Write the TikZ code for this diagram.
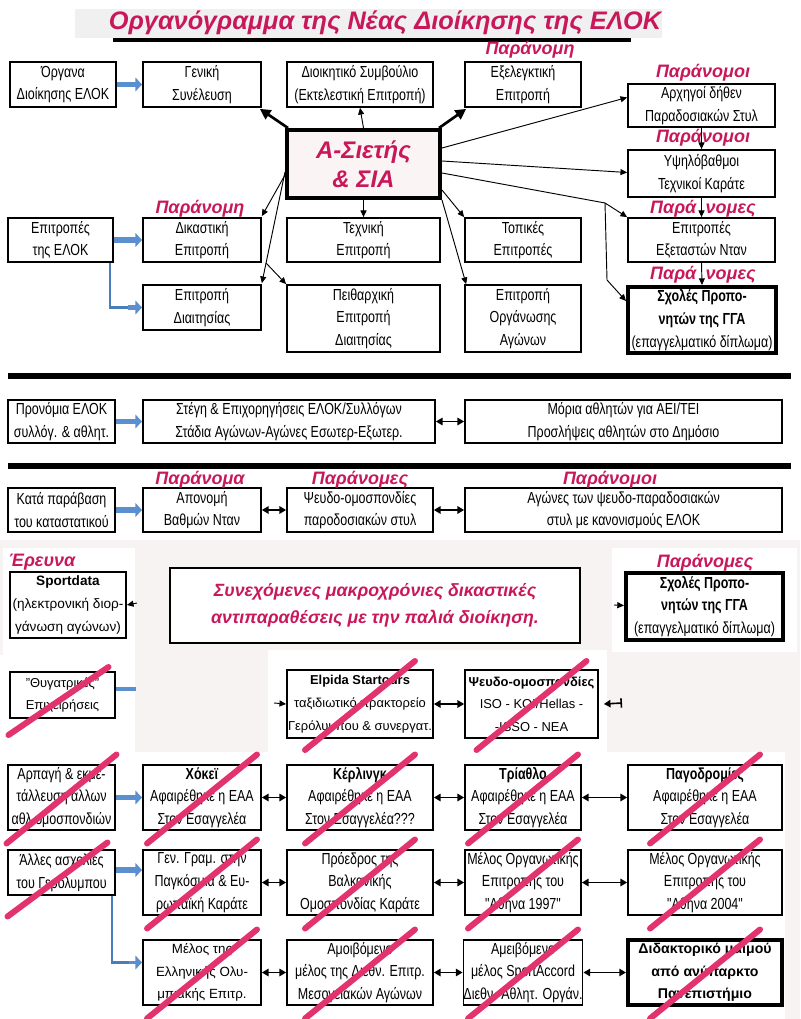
\documentclass[tikz,border=0pt]{standalone}
\usepackage{fontspec}
\setmainfont{Liberation Sans}
\newfontfamily\nar[FakeStretch=0.78]{Liberation Sans}
\usetikzlibrary{arrows.meta,calc}
\definecolor{crim}{HTML}{C8185A}
\definecolor{slashc}{HTML}{E2336E}
\definecolor{bluea}{HTML}{5B8FD0}
\definecolor{bluel}{HTML}{4A7EBB}
\definecolor{lowbg}{HTML}{F7F3F3}
\definecolor{cfill}{HTML}{FBF4F4}
\newcommand\bx[7][]{\node[box,#1,minimum width={(#5-#3)*0.75pt},minimum height={(#6-#4)*0.75pt}] (#2) at ({(#3+#5)/2},{(#4+#6)/2}) {#7};}
\newcommand\slashit[1]{\draw[slashln] ($(#1.center)+(-55,46)$) -- ($(#1.center)+(55,-43)$);}
\begin{document}
\begin{tikzpicture}[x=0.75pt,y=-0.75pt,
  box/.style={draw=black, line width=1.3pt, fill=white, align=center, inner sep=0pt, font=\nar\fontsize{12}{17}\selectfont},
  nbox/.style={box, font=\fontsize{9.7}{17}\selectfont},
  lab/.style={font=\bfseries\itshape\fontsize{13.5}{15}\selectfont, text=crim, inner sep=0pt},
  thk/.style={line width=2pt, -{Triangle[length=8pt,width=8pt]}},
  thn/.style={line width=0.7pt, -{Triangle[length=5pt,width=4.5pt]}},
  dbl/.style={line width=1.3pt, {Triangle[length=5pt,width=5.5pt]}-{Triangle[length=5pt,width=5.5pt]}},
  blu/.style={line width=4pt, draw=bluea, -{Triangle[length=5pt,width=10pt]}},
  bline/.style={line width=2pt, draw=bluel},
  slashln/.style={line width=4.5pt, draw=slashc, line cap=round},
  sepline/.style={line width=5pt}]
\useasboundingbox (0,0) rectangle (800,1019);
\fill[white] (0,0) rectangle (800,1019);
\fill[lowbg] (0,540) rectangle (800,1019);
\fill[white] (3,548) rectangle (135,655);
\fill[white] (612,548) rectangle (797,652);
\fill[white] (0,655) rectangle (135,752);
\fill[white] (268,650) rectangle (607,752);
\fill[white] (0,752) rectangle (785,1019);

% title
\fill[black!6] (75,9) rectangle (662,38);
\node[font=\bfseries\itshape\fontsize{19}{21}\selectfont, text=crim, inner sep=0pt] (title) at (385,23) {Οργανόγραμμα της Νέας Διοίκησης της ΕΛΟΚ};
\draw[line width=3pt] (113,40) -- (631,40);

% row 1
\bx{A1}{10}{62}{116}{107}{Όργανα\\Διοίκησης ΕΛΟΚ}
\bx{A2}{143}{62}{261}{107}{Γενική\\Συνέλευση}
\bx{A3}{287}{62}{433}{107}{Διοικητικό Συμβούλιο\\(Εκτελεστική Επιτροπή)}
\bx{A4}{465}{62}{581}{107}{Εξελεγκτική\\Επιτροπή}
\node[lab] (L1) at (530,50) {Παράνομη};

% right column
\bx{R1}{628}{84}{775}{127}{Αρχηγοί δήθεν\\Παραδοσιακών Στυλ}
\node[lab] (L2) at (703,73) {Παράνομοι};
\bx{R2}{628}{150}{775}{197}{Υψηλόβαθμοι\\Τεχνικοί Καράτε}
\node[lab] (L3) at (703,138) {Παράνομοι};
\bx{R3}{628}{218}{775}{262}{Επιτροπές\\Εξεταστών Νταν}
\node[lab] (L4) at (703,209) {Παρά\hspace{7pt}νομες};
\bx[line width=3pt]{R4}{628}{287}{776}{353}{\textbf{Σχολές Προπο-}\\\textbf{νητών της ΓΓΑ}\\(επαγγελματικό δίπλωμα)}
\node[lab] (L5) at (703,275) {Παρά\hspace{7pt}νομες};
\draw[thn] (R1.south) -- (R2.north);
\draw[thn] (R2.south) -- (R3.north);
\draw[thn] (R3.south) -- (R4.north);

% central
\bx[line width=3pt, fill=cfill, font=\bfseries\itshape\fontsize{18}{21.5}\selectfont, text=crim]{C}{287}{130}{440}{198}{Α-Σιετής\\\& ΣΙΑ}

% row 2 / 3
\bx{B1}{8}{218}{113}{262}{Επιτροπές\\της ΕΛΟΚ}
\bx{B2}{143}{218}{261}{262}{Δικαστική\\Επιτροπή}
\node[lab] (L6) at (200,209) {Παράνομη};
\bx{B3}{287}{218}{440}{262}{Τεχνική\\Επιτροπή}
\bx{B4}{465}{218}{581}{262}{Τοπικές\\Επιτροπές}
\bx{B5}{143}{285}{261}{330}{Επιτροπή\\Διαιτησίας}
\bx{B6}{287}{285}{440}{352}{Πειθαρχική\\Επιτροπή\\Διαιτησίας}
\bx{B7}{465}{285}{581}{352}{Επιτροπή\\Οργάνωσης\\Αγώνων}

% blue arrows top
\draw[blu] (A1.east) -- (A2.west);
\draw[blu] (B1.east) -- (B2.west);
\draw[bline] ($(B1.south east)+(-4,0)$) |- ($(B5.west)+(-12,0)$);
\draw[blu] ($(B5.west)+(-14,0)$) -- (B5.west);

% arrows from C
\draw[thk] ($(C.north west)+(3,0)$) -- ($(A2.south east)+(-2,1)$);
\draw[thn] (C.north) -- (A3.south);
\draw[thk] ($(C.north east)+(-3,0)$) -- ($(A4.south west)+(2,1)$);
\draw[thn] ($(C.north east)+(0,20)$) -- ($(R1.west)+(0,-8)$);
\draw[thn] ($(C.north east)+(0,33)$) -- ($(R2.west)+(0,-1)$);
\coordinate (K) at (605,203);
\draw[thn] ($(C.north east)+(0,45)$) -- (K) -- (R3.north west);
\draw[thn] (K) -- (607,280) -- ($(R4.north west)+(0,16)$);
\draw[thn] ($(C.south west)+(0,-25)$) -- ($(B2.north east)+(0,-1)$);
\coordinate (Q) at (266,263);
\draw[thn] ($(C.south west)+(0,-28)$) -- ($(B5.north east)+(0,-1)$);
\draw[thn] (Q) -- (B6.north west);
\draw[thn] (C.south) -- (B3.north);
\draw[thn] ($(C.south east)+(0,-10)$) -- (B4.north west);
\draw[thn] (C.south east) -- ($(B7.north west)+(2,0)$);

% separators
\draw[sepline] (8,376) -- (791,376);
\draw[sepline] (8,466) -- (791,466);

% privileges row
\bx{P1}{8}{400}{115}{443}{Προνόμια ΕΛΟΚ\\συλλόγ. \& αθλητ.}
\bx{P2}{143}{400}{435}{443}{Στέγη \& Επιχορηγήσεις ΕΛΟΚ/Συλλόγων\\Στάδια Αγώνων-Αγώνες Εσωτερ-Εξωτερ.}
\bx{P3}{465}{400}{782}{443}{Μόρια αθλητών για ΑΕΙ/ΤΕΙ\\Προσλήψεις αθλητών στο Δημόσιο}
\draw[blu] (P1.east) -- (P2.west);
\draw[dbl] (P2.east) -- (P3.west);

% violation row
\bx{Q1}{8}{488}{115}{532}{Κατά παράβαση\\του καταστατικού}
\bx{Q2}{143}{488}{261}{532}{Απονομή\\Βαθμών Νταν}
\node[lab] (L7) at (200,480) {Παράνομα};
\bx{Q3}{287}{488}{433}{532}{Ψευδο-ομοσπονδίες\\παροδοσιακών στυλ}
\node[lab] (L8) at (360,480) {Παράνομες};
\bx{Q4}{465}{488}{782}{532}{Αγώνες των ψευδο-παραδοσιακών\\στυλ με κανονισμούς ΕΛΟΚ}
\node[lab] (L9) at (610,480) {Παράνομοι};
\draw[blu] (Q1.east) -- (Q2.west);
\draw[dbl] (Q2.east) -- (Q3.west);
\draw[dbl] (Q3.east) -- (Q4.west);

% lower part
\node[lab] (L10) at (42,562) {Έρευνα};
\bx[nbox, font=\fontsize{10.2}{17}\selectfont]{S1}{10}{572}{126}{638}{\textbf{Sportdata}\\(ηλεκτρονική διορ-\\γάνωση αγώνων)}
\coordinate (S1r) at (137,603);
\draw[thn] (S1r) -- (S1.east);
\bx[line width=1.5pt, font=\bfseries\itshape\fontsize{13.3}{20}\selectfont, text=crim]{D}{170}{568}{580}{643}{Συνεχόμενες μακροχρόνιες δικαστικές\\αντιπαραθέσεις με την παλιά διοίκηση.}
\node[lab] (L11) at (705,563) {Παράνομες};
\bx[line width=3pt]{S2}{626}{573}{783}{640}{\textbf{Σχολές Προπο-}\\\textbf{νητών της ΓΓΑ}\\(επαγγελματικό δίπλωμα)}
\coordinate (S2l) at (614,605);
\draw[thn] (S2l) -- ($(S2.west)+(0,-1)$);

\bx[nbox]{T1}{10}{672}{115}{718}{"Θυγατρικές"\\Επιχειρήσεις}
\coordinate (T1r) at (136,689);
\draw[line width=3pt, draw=bluea] ($(T1.east)+(0,-6)$) -- (T1r);
\bx[nbox]{E1}{287}{670}{433}{738}{\textbf{Elpida Startours}\\ταξιδιωτικό πρακτορείο\\Γερόλυμπου \& συνεργατ.}
\bx[nbox]{E2}{465}{670}{598}{738}{\textbf{Ψευδο-ομοσπονδίες}\\ISO - KOI/Hellas -\\-ISSO - NEA}
\coordinate (E1l) at (274,703);
\coordinate (E2r) at (622,703);
\draw[thn] (E1l) -- (E1.west);
\draw[dbl] (E1.east) -- (E2.west);
\draw[line width=1.2pt, {Bar[width=7pt]}-{Triangle[length=5pt,width=5.5pt]}] (E2r) -- ($(E2.east)+(5,0)$);

\bx{F1}{8}{765}{115}{830}{Αρπαγή \& εκμε-\\τάλλευση άλλων\\αθλ.ομοσπονδιών}
\bx{F2}{143}{765}{261}{830}{\textbf{Χόκεϊ}\\Αφαιρέθηκε η ΕΑΑ\\Στον Εσαγγελέα}
\bx{F3}{287}{765}{433}{830}{\textbf{Κέρλινγκ}\\Αφαιρέθηκε η ΕΑΑ\\Στον Εσαγγελέα???}
\bx{F4}{465}{765}{581}{830}{\textbf{Τρίαθλο}\\Αφαιρέθηκε η ΕΑΑ\\Στον Εσαγγελέα}
\bx{F5}{628}{765}{782}{830}{\textbf{Παγοδρομίες}\\Αφαιρέθηκε η ΕΑΑ\\Στον Εσαγγελέα}
\draw[blu] (F1.east) -- (F2.west);
\draw[dbl] (F2.east) -- (F3.west);
\draw[dbl] (F3.east) -- (F4.west);
\draw[dbl] (F4.east) -- (F5.west);

\bx{G1}{8}{850}{115}{895}{Άλλες ασχολίες\\του Γερόλυμπου}
\bx{G2}{143}{850}{261}{915}{Γεν. Γραμ. στην\\Παγκόσμια \& Ευ-\\ρωπαϊκή Καράτε}
\bx{G3}{287}{850}{433}{915}{Πρόεδρος της\\Βαλκανικής\\Ομοσπονδίας Καράτε}
\bx{G4}{465}{850}{581}{915}{Μέλος Οργανωτικής\\Επιτροπής του\\"Αθήνα 1997"}
\bx{G5}{628}{850}{782}{915}{Μέλος Οργανωτικής\\Επιτροπής του\\"Αθήνα 2004"}
\draw[blu] ($(G1.east)+(0,-2.5)$) -- ($(G2.west)+(0,-12.5)$);
\draw[dbl] (G2.east) -- (G3.west);
\draw[dbl] (G3.east) -- (G4.west);
\draw[dbl] (G4.east) -- (G5.west);

\bx[nbox, font=\fontsize{10}{17}\selectfont]{H2}{143}{940}{261}{1005}{Μέλος της\\Ελληνικής Ολυ-\\μπιακής Επιτρ.}
\bx{H3}{287}{940}{433}{1005}{Αμοιβόμενο\\μέλος της Διεθν. Επιτρ.\\Μεσογειακών Αγώνων}
\bx{H4}{465}{940}{581}{1005}{Αμειβόμενο\\μέλος SportAccord\\Διεθν. Αθλητ. Οργάν.}
\bx[line width=3pt, font=\bfseries\fontsize{10.6}{17}\selectfont]{H5}{628}{940}{782}{1005}{Διδακτορικό μαϊμού\\από ανύπαρκτο\\Πανεπιστήμιο}
\draw[bline] ($(G1.south east)+(-4,0)$) |- ($(H2.west)+(-12,-10)$);
\draw[blu, line width=2.5pt] ($(H2.west)+(-13,-10)$) -- ($(H2.west)+(0,-10)$);
\draw[dbl] (H2.east) -- (H3.west);
\draw[dbl] (H3.east) -- (H4.west);
\draw[dbl] (H4.east) -- (H5.west);

% strike-throughs
\draw[slashln] ($(T1.center)+(-54,40)$) -- ($(T1.center)+(46,-28)$);
\slashit{E1}
\slashit{E2}
\slashit{F1}\slashit{F2}\slashit{F3}\slashit{F4}\slashit{F5}
\draw[slashln] ($(G1.center)+(-54,44)$) -- ($(G1.center)+(46,-30)$);
\slashit{G2}\slashit{G3}\slashit{G4}\slashit{G5}
\slashit{H2}\slashit{H3}\slashit{H4}\slashit{H5}
\end{tikzpicture}
\end{document}
